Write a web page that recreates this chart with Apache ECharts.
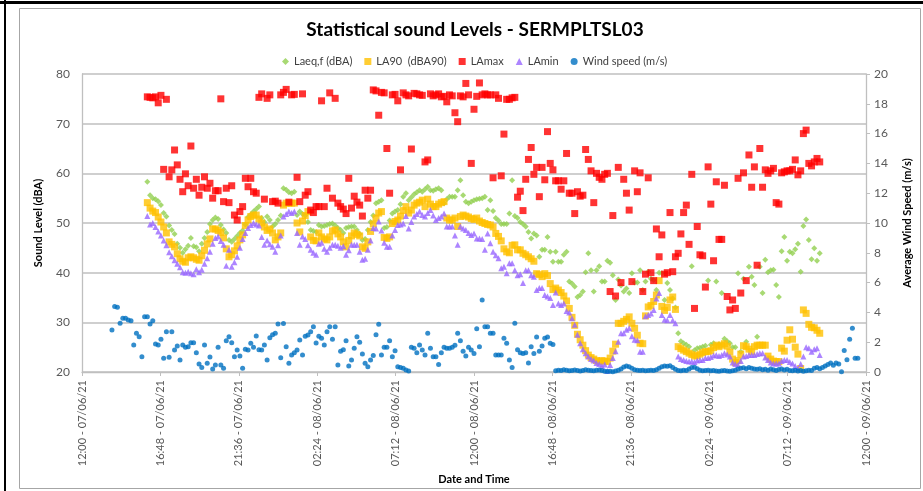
<!DOCTYPE html>
<html>
<head>
<meta charset="utf-8">
<script src="https://cdn.jsdelivr.net/npm/echarts@6/dist/echarts.min.js"></script>
<style>
html,body{margin:0;padding:0;background:#fff;}
#chart{width:923px;height:491px;}
</style>
</head>
<body>
<div id="chart"></div>
<script>
// x tick labels (every 4.8 h starting 12:00 07/06/21)
const xTickLabels = [
  "12:00 - 07/06/21","16:48 - 07/06/21","21:36 - 07/06/21","02:24 - 08/06/21",
  "07:12 - 08/06/21","12:00 - 08/06/21","16:48 - 08/06/21","21:36 - 08/06/21",
  "02:24 - 09/06/21","07:12 - 09/06/21","12:00 - 09/06/21"
];
// time in hours after 12:00 07/06/21; 10-minute logging interval
const soundStartH = 4;        // 16:00 07/06/21
const windStartH = 11 / 6;    // 13:50 07/06/21
const stepH = 1 / 6;

const laeq = [
58.3,55.6,55,54.8,54.4,53.6, 52,51.3,49.5,48.6,47.8,45.8, 45,44,44.7,45.4,47,45.3,
45.1,44.3,45.8,47,48.2,49.8, 50.6,51.1,50.8,49.6,48.7,48, 46.6,46.2,46.8,47.4,48,48.5,
49.7,51.2,51.7,52.3,52.8,53.3, 51,50.2,51.3,50.6,49.3,49.8, 50.6,51.5,57,56.7,56.2,56,
56.3,51.6,52.3,51.8,51.5,50.2, 48.6,48.4,48.2,49.6,49.3,49.4, 49.6,49.8,49.9,49.5,49,48.6,
48,49,49.2,49.3,49.3,48.6, 47.8,46.6,46.8,48.6,50.2,51.5, 54,54.3,54.6,49,49.2,50.5,
51.9,52.3,52.6,53.8,55.3,56, 54.6,55.2,55.8,56.2,56.6,56.3, 56.8,57.3,56.6,56.5,56.8,57,
56.6,54,54.8,55.3,55.3,55.3, 56.6,58.6,55.6,54.3,54,54.3, 54.6,54.8,54.9,55,55.3,52.6,
54.6,52.4,51,50.5,49.8,49.8, 49.8,51.9,58.6,51.4,51,50.2, 49.8,49.3,48.2,46.9,47.9,47.5,
43.2,44.6,44.6,47.2,44.2,42.2, 44.2,42.2,42.2,43.6,44.2,38.2, 37.8,37.2,35.1,35.5,36.2,40.1,
43.9,40.5,36.2,40.5,41.3,38.2, 38.2,42.4,42,39.5,34.5,38.6, 37.4,36.2,36.8,35.9,39.9,38,
38,40.5,36.5,38.2,40.2,38.8, 38.5,36.5,40,39.9,34.5,37.9, 36.5,34.8,33,27.8,26.2,25.8,
25.5,25.1,41.3,24.4,24.8,24.9, 25.1,25.3,38.4,25.5,25.8,38.2, 25.6,35.9,26.7,26.2,25.8,25,
25,39.9,24.1,38.8,26.1,41.2, 39.2,37.5,27.1,41.2,35.9,42.6, 40.1,40.5,40.6,37.5,35.1,44.3,
47.2,42.4,44.2,43.9,44.7,45.8, 40.2,49.4,50.7,46.6,42.7,44.9, 42.4,43.9
];
const la90 = [
54.1,53,52.4,52.1,51.2,50.2, 49.2,48,46.2,45.7,45.2,43.8, 42.8,42.3,42.1,43,43.2,43,
42.7,42.5,43.4,44.5,45.8,46.8, 48.8,48.8,48.5,48.1,47,44.8, 43.2,43.6,44.4,45.4,46.6,47.6,
49.5,50.6,51.3,51.6,51.6,50.8, 50,49.2,48.5,48.8,48,46.6, 47.2,48,53.6,54,54,54,
54,50,48.2,50.4,51.5,52.3, 47.2,46.5,46.4,48,47.2,46.8, 46.6,47.2,48.4,48.6,47.8,47.2,
46.2,45.2,46.5,47.4,48,47.7, 47.4,45.2,44.9,46.2,48.3,49.8, 51,52,52.3,47.1,46.9,47.2,
49.9,50.3,50.6,51.4,52.5,53.3, 52,52.6,53.6,54,54.2,54.6, 53.3,54.8,53.8,53.3,53.3,53.8,
54.1,54.3,51,50.6,50.6,51, 49.3,51.3,51.6,51.4,51.2,50.9, 50.7,51,50.4,50.1,49.9,49.7,
49.6,49.2,47.9,47.3,46.4,44.8, 44.2,44,45.5,45.6,44.6,44.6, 43.9,43.6,43.2,42.8,42.3,39.8,
39.6,39.2,39.8,39.4,37.8,36.6, 36.9,36.5,36,35.3,34.3,32.8, 31,29.4,27.6,26.5,25.4,24.3,
23.4,22.9,22.6,22.3,22.1,22.3, 22.2,22.1,22.8,24.2,25.6,29.8, 29.8,30.2,30.6,31.1,29.8,28.8,
27.4,25.8,25.7,31.3,33.1,33.4, 34.2,35.5,38.4,33.2,32.4,33, 34.5,35.1,32.6,25.1,24.7,24.4,
24.1,23.8,23.5,23.2,23.3,23.6, 23.9,24.1,24.1,24.3,24.9,25.4, 25.1,25.4,25.7,25.2,24,22.6,
21.9,22.3,23.6,25.3,25.1,24.6, 24.1,25.1,25.4,25.4,25.4,25.4, 23.2,22.6,22.2,22.1,22.1,24.8,
24.2,26.4,28.5,26.6,25,23.6, 20.7,32.5,31.8,29.6,29,28.9, 28.4,27.8
];
const lamax = [
75.4,75.3,75.2,75.4,74.2,75.7, 60.8,74.9,59.3,60.7,64.7,61.7, 58.8,56.3,59.9,57.5,65.5,57,
58.8,55.6,57.2,59.3,57,58, 55,56.5,56.5,75,54.3,57, 54.1,57.5,51.6,50.6,52.3,53.3,
59,57.3,59,56.3,56,75.3, 76,54.8,75.1,75.8,54.3,54.4, 54,75.8,76.3,76.9,54.2,75.8,
75.9,59.2,54.3,76,55.6,56.3, 52.6,52.1,53.3,53.3,74.6,53.3, 57,76.2,55,75.1,54,53.3,
52.8,51.9,59,53,55.4,54.2, 53.6,51.4,56.6,55,56.6,76.8, 76.6,71.7,76.3,76.2,65,56,
75.8,75.9,74.6,60.7,76.2,75.8, 75.6,64.9,76.1,76,75.8,75.7, 62.3,62.7,76,75.6,75.8,76,
75.4,75.5,74.4,75.8,75.6,72.2, 70.4,75.6,75.4,78.1,75.8,62, 72.9,75.5,78.2,75.8,76,75.8,
75.8,59.1,75.8,75.1,59.5,67.9, 74.9,74.9,75.2,75.3,55.2,56.4, 52.5,58.8,62.8,65.2,59.8,61.2,
55.3,61.2,58.7,68.4,62,60.7, 58.5,58.5,56.8,58.5,64,56, 56,51.9,56.3,55.4,55.6,64.8,
62.8,60.5,54.1,60,59.2,58.8, 59.8,60,36.2,51.5,35.3,61.2, 38,58.8,56,52.6,38.2,60.5,
56.3,60.1,36.2,39.7,59.1,40, 38.4,48.8,43.2,47.6,39.7,40, 52.1,40.2,43.2,43.9,47.8,52.1,
53.6,45.7,59.8,32.8,49.3,43.6, 43.4,37.1,61.3,53.8,42.4,58.3, 46.7,46.7,57.6,35.2,32.5,34.5,
32.8,59,35.9,60.1,38.4,63.7, 57.2,61.3,41.5,65,57.2,60.7, 60,60.5,61,54.1,53.8,60.1,
60.3,60.5,60.5,60.8,62.7,59.7, 60.5,68,68.7,62,61.5,62.3, 63,62.3
];
const lamin = [
51.4,49.7,50,49.2,48.3,47.5, 46.5,45.5,44.1,43.3,42.5,41.8, 41.1,40.1,40,40.2,39.9,39.7,
40.7,40.1,40.6,41.8,42.9,44.2, 45.8,47,47.3,46.4,45.6,41.4, 44.6,41.2,42.1,43.2,45,46.8,
48,49,49.6,50,49.7,49.5, 47.2,45.6,46.5,45.7,45.2,44.2, 45.5,47.5,51.3,51.8,52.3,52,
52.3,48,45.6,47.3,46.8,45.5, 44.6,44,43.6,45.8,46,44.8, 44.2,45,45.6,45.6,45.4,45,
45.3,43.6,44.5,45.6,45.6,45.6, 44.2,42.6,42.8,44.6,46.5,49, 48.9,50.3,48.5,46,45.2,45.2,
47.5,48.6,49.6,49.7,49.9,51.4, 48.9,50.2,51.3,51.8,52.3,51.6, 51.3,52,52.6,51.5,50.6,51,
51.3,51.9,49.3,49.3,49.3,47.5, 45.6,49.3,48.9,48.6,48,47.6, 47.9,46.9,46.9,46.8,44.6,47.9,
45.9,44.2,43.5,42.9,40.9,41.2, 39.9,41.9,41.9,40.5,39.5,39.7, 37.9,40.5,40.5,39.5,39.2,36.5,
36.9,36.9,35.5,35.2,34.9,33.5, 36,33.8,33.5,33.8,32.3,32, 30.8,29.5,27.5,25.8,24.6,23.8,
23.1,22.6,22.3,21.8,21.6,21.2, 21.5,20.2,21.4,22.8,24.2,26.1, 27.8,27.8,28.5,28.8,27.2,26.5,
26.4,24.1,24.1,31.2,31.5,31.8, 32.5,34.8,35.9,31.5,30.5,30.4, 31.5,30.4,29.8,23.1,22.6,22.4,
22.2,22.1,22.1,22,22.3,22.4, 22.4,22.8,22.8,23,23.3,23.4, 23.2,23.4,23.8,23.5,23.1,21.9,
21.6,21.4,22.2,23.1,23.2,23.4, 23.4,23.4,23.6,23.8,23.8,22.9, 22.4,21.9,21.7,21.7,21.7,22.2,
22.4,22.4,22,21.7,21.2,20.7, 21.6,23.1,25,24.8,24.1,24.6, 24.8,23.4
];
const wind = [
2.82,4.4,4.34,3.27,3.6,3.6, 3.49,3.44,1.81,2.6,2.37,1.03, 3.71,3.71,3.22,3.44,1.88,1.81,
2.19,0.92,2.7,0.99,2.7,1.48, 1.74,0.81,1.81,1.66,1.7,1.97, 1.97,1.3,0.54,0.3,1.81,0.58,
1.0,0.2,0.47,1.66,0.47,0.25, 2.1,2.37,1.97,1.03,1.48,1.07, 0.25,1.52,1.48,1.93,1.66,2.42,
1.5,1.48,1.81,0.81,2.3,2.5, 2.6,3.22,0.95,3.25,1.7,0.58, 1.14,1.3,1.48,2.15,1.14,2.4,
2.48,2.7,3.04,1.95,2.4,2.26, 1.81,2.7,3.04,2.2,3.04,0.47, 1.4,1.5,2.1,0.4,0.8,1.59,
2.37,2.0,1.2,0.58,0.36,0.81, 1.1,2.5,3.2,1.14,1.66,1.66, 2.1,1.03,1.43,0.36,0.3,0.25,
0.13,0.07,1.66,1.59,1.3,1.81, 1.48,1.14,2.6,1.59,1.03,1.03, 0.5,1.3,1.66,1.59,1.6,1.66,
1.8,2.6,2.1,1.4,1.07,1.66, 1.48,1.25,2.9,1.7,4.83,3.04, 3.04,2.6,2.6,1.14,1.14,1.14,
2.26,1.93,0.8,0.3,3.27,1.5, 1.3,1.25,1.3,0.6,1.7,1.25, 2.35,1.4,1.74,2.26,2.35,1.93,
1.85,
0.08,0.12,0.1,0.15,0.12,0.08,0.1,0.13,0.1,0.06,0.1,0.15,0.12,0.1,0.08,0.12,
0.13,0.1,0.05,0.03,0.05,0.02,0.06,0.12,0.2,0.33,0.4,0.36,
0.25,0.15,0.12,0.1,0.12,0.08,0.1,0.12,0.1,0.15,
0.25,0.35,0.4,0.38,0.42,0.3,0.18,0.1,0.08,0.12,
0.1,0.2,0.3,0.32,0.22,0.12,0.08,0.1,0.12,0.08,
0.1,0.06,0.05,0.08,0.1,0.06,0.05,0.08,0.12,0.2,
0.25,0.28,0.22,0.3,0.25,0.2,0.18,0.22,0.15,0.18,
0.12,0.2,0.15,0.1,0.16,0.2,0.14,0.18,0.1,0.08,
0.12,0.06,0.1,0.05,0.08,0.12,0.1,0.25,0.3,0.22,
0.31,0.4,0.5,0.6,0.45,0.6,0.54,0.02,1.45,0.83,2.19,2.93,0.92,0.92
];

function toPairs(arr, startH) {
  return arr.map(function (v, i) { return [startH + i * stepH, v]; });
}

const FONT = "Lato, 'Liberation Sans', sans-serif";
const chart = echarts.init(document.getElementById('chart'), null, {renderer: 'canvas'});

chart.setOption({
  animation: false,
  backgroundColor: '#ffffff',
  textStyle: {fontFamily: FONT},
  title: {
    text: 'Statistical sound Levels - SERMPLTSL03',
    left: 470, top: 15, textAlign: 'center',
    textStyle: {fontFamily: FONT, fontSize: 19, fontWeight: 'bold', color: '#000'}
  },
  legend: {
    top: 51, left: 277,
    itemWidth: 7, itemHeight: 7, itemGap: 12,
    textStyle: {fontFamily: FONT, fontSize: 11, color: '#404040'},
    data: [
      {name: 'Laeq,f (dBA)', icon: 'diamond'},
      {name: 'LA90  (dBA90)', icon: 'rect'},
      {name: 'LAmax', icon: 'rect'},
      {name: 'LAmin', icon: 'triangle'},
      {name: 'Wind speed (m/s)', icon: 'circle'}
    ]
  },
  grid: {left: 82, right: 57, top: 74, bottom: 119, containLabel: false},
  xAxis: {
    type: 'value', min: 0, max: 48, interval: 4.8,
    name: 'Date and Time', nameLocation: 'middle', nameGap: 100,
    nameTextStyle: {fontFamily: FONT, fontSize: 11, fontWeight: 'bold', color: '#000'},
    axisLine: {show: true, lineStyle: {color: '#bfbfbf', width: 1.3}},
    axisTick: {show: true, length: 4, lineStyle: {color: '#bfbfbf'}},
    splitLine: {show: false},
    axisLabel: {
      rotate: 90, margin: 8, fontSize: 11, color: '#595959', fontFamily: FONT,
      formatter: function (v) { return xTickLabels[Math.round(v / 4.8)] || ''; }
    }
  },
  yAxis: [
    {
      type: 'value', min: 20, max: 80, interval: 10,
      name: 'Sound Level (dBA)', nameLocation: 'middle', nameGap: 38, nameRotate: 90,
      nameTextStyle: {fontFamily: FONT, fontSize: 11, fontWeight: 'bold', color: '#000'},
      axisLine: {show: true, lineStyle: {color: '#bfbfbf', width: 1.3}},
      axisTick: {show: false},
      splitLine: {show: true, lineStyle: {color: '#bfbfbf', width: 1.5}},
      axisLabel: {fontSize: 12, color: '#595959', margin: 12, fontFamily: FONT}
    },
    {
      type: 'value', min: 0, max: 20, interval: 2, position: 'right',
      name: 'Average Wind Speed (m/s)', nameLocation: 'middle', nameGap: 36, nameRotate: 90,
      nameTextStyle: {fontFamily: FONT, fontSize: 11, fontWeight: 'bold', color: '#000'},
      axisLine: {show: true, lineStyle: {color: '#bfbfbf', width: 1.3}},
      axisTick: {show: true, length: 4, lineStyle: {color: '#bfbfbf'}},
      splitLine: {show: false},
      axisLabel: {fontSize: 12, color: '#595959', margin: 8, fontFamily: FONT}
    }
  ],
  series: [
    {name: 'Laeq,f (dBA)', type: 'scatter', yAxisIndex: 0, symbol: 'diamond', symbolSize: 6,
     itemStyle: {color: '#92D050'}, data: toPairs(laeq, soundStartH)},
    {name: 'LA90  (dBA90)', type: 'scatter', yAxisIndex: 0, symbol: 'rect', symbolSize: 7,
     itemStyle: {color: '#FFC000'}, data: toPairs(la90, soundStartH)},
    {name: 'LAmax', type: 'scatter', yAxisIndex: 0, symbol: 'rect', symbolSize: 7,
     itemStyle: {color: '#FF0000'}, data: toPairs(lamax, soundStartH)},
    {name: 'LAmin', type: 'scatter', yAxisIndex: 0, symbol: 'triangle', symbolSize: 6,
     itemStyle: {color: '#9966FF'}, data: toPairs(lamin, soundStartH)},
    {name: 'Wind speed (m/s)', type: 'scatter', yAxisIndex: 1, symbol: 'circle', symbolSize: 5,
     itemStyle: {color: '#0070C0'}, data: toPairs(wind, windStartH)}
  ],
  graphic: [
    {type: 'rect', shape: {x: 19.5, y: 8.5, width: 901, height: 480}, silent: true,
     style: {fill: 'none', stroke: '#a6a6a6', lineWidth: 1}},
    {type: 'rect', shape: {x: 0, y: 1, width: 923, height: 3}, silent: true, style: {fill: '#000'}},
    {type: 'rect', shape: {x: 4, y: 0, width: 2, height: 491}, silent: true, style: {fill: '#000'}}
  ]
});
</script>
</body>
</html>
